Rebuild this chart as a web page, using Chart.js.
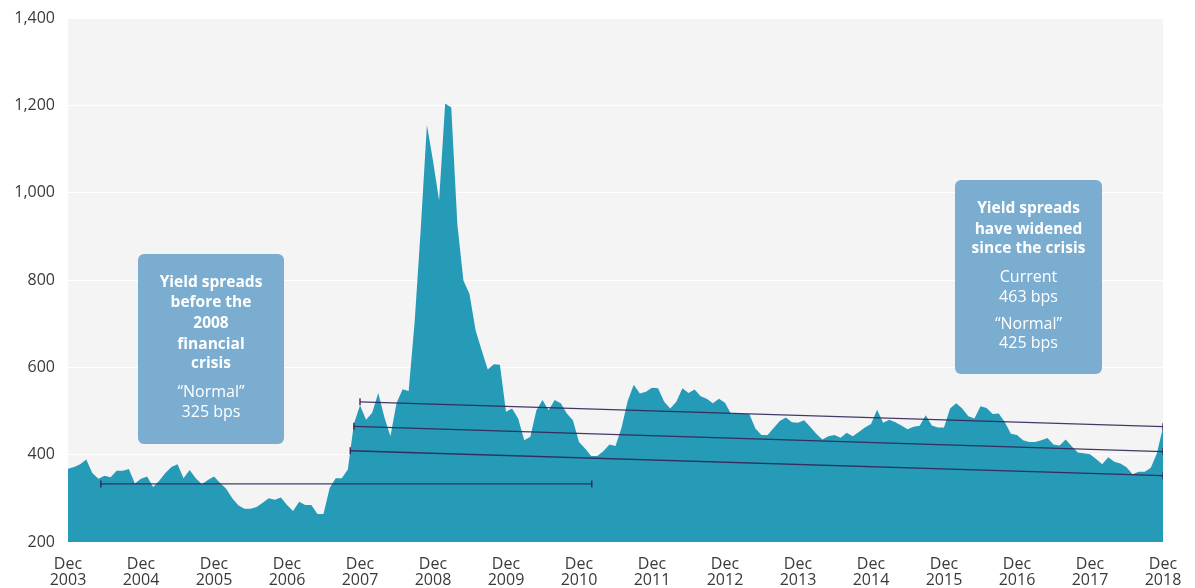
<!DOCTYPE html>
<html>
<head>
<meta charset="utf-8">
<script src="https://cdn.jsdelivr.net/npm/chart.js@4"></script>
<style>
html,body{margin:0;padding:0;background:#fff;}
#wrap{position:relative;width:1195px;height:588px;}
</style>
</head>
<body>
<div id="wrap"><canvas id="c" width="1195" height="588"></canvas></div>
<script>
// Month index 0 = Dec 2003 ... 180 = Dec 2018
const tickYears = ['2003','2004','2005','2006','2007','2008','2009','2010','2011','2012','2013','2014','2015','2016','2017','2018'];
const tickMonth = 'Dec';
const yTicks = [200, 400, 600, 800, 1000, 1200, 1400];

const spreads = [
  368,372,378,389,358,345,352,348,363,363,367,334,
  345,350,326,340,358,372,378,346,365,346,332,342,
  350,335,322,300,284,276,276,280,290,300,297,302,
  285,271,292,285,285,264,264,323,346,346,366,471,
  513,480,496,541,486,442,518,550,546,707,921,1155,
  1073,982,1204,1195,928,799,768,685,639,595,607,606,
  498,506,483,433,441,502,525,502,525,518,494,479,
  429,414,397,397,408,423,420,462,523,560,540,544,
  553,552,521,506,521,552,541,549,534,528,518,528,
  519,493,494,493,493,460,445,445,461,477,485,474,
  473,479,464,448,435,442,445,439,450,442,452,462,
  470,503,473,480,474,467,458,464,466,490,467,462,
  462,506,518,506,488,483,511,507,493,494,474,448,
  445,433,429,429,433,438,423,421,435,419,405,403,
  401,390,378,394,384,380,371,355,361,361,370,403,
  463
];

// reference lines: [monthIndex, value]
const preCrisisNormal = [[5.4, 333], [86.1, 333]];
const postLineTop = [[48, 521], [180, 464]];
const postLineMid = [[47, 465], [180, 407]];
const postLineLow = [[46.4, 409], [180, 352]];

const leftBoxBold = ['Yield spreads', 'before the', '2008', 'financial', 'crisis'];
const leftBoxText = ['\u201CNormal\u201D', '325 bps'];
const rightBoxBold = ['Yield spreads', 'have widened', 'since the crisis'];
const rightBoxText = ['Current', '463 bps', '\u201CNormal\u201D', '425 bps'];

const FONT = "'Open Sans', 'Noto Sans', sans-serif";
const AREA = '#269bb8';
const LINE = 'rgba(52,34,86,0.9)';
const BOX = '#7badd1';

function toPts(arr){ return arr.map(p => ({x: p[0], y: p[1]})); }
function refLine(arr){
  return {
    type: 'line', data: toPts(arr), order: 0,
    borderColor: LINE, borderWidth: 1.3, fill: false, tension: 0,
    pointStyle: 'line', rotation: 90, pointRadius: 3.5, pointBorderWidth: 1.5,
    pointBorderColor: LINE, pointHoverRadius: 0
  };
}

const bgPlugin = {
  id: 'bg',
  beforeDraw(chart){
    const {ctx, chartArea: a} = chart;
    ctx.save();
    ctx.fillStyle = '#f4f4f4';
    ctx.fillRect(a.left, a.top, a.right - a.left, a.bottom - a.top);
    ctx.restore();
  }
};

function drawBox(ctx, x, y, w, h, bold, boldY, text, textY){
  ctx.save();
  ctx.fillStyle = BOX;
  ctx.beginPath();
  ctx.roundRect(x, y, w, h, 6);
  ctx.fill();
  ctx.fillStyle = '#ffffff';
  ctx.textAlign = 'center';
  ctx.textBaseline = 'middle';
  const cx = x + w / 2;
  ctx.font = "bold 15.5px " + FONT;
  bold.forEach((t, i) => ctx.fillText(t, cx, boldY[i]));
  ctx.font = "16px " + FONT;
  text.forEach((t, i) => ctx.fillText(t, cx, textY[i]));
  ctx.restore();
}

const boxPlugin = {
  id: 'boxes',
  afterDraw(chart){
    const ctx = chart.ctx;
    drawBox(ctx, 138, 254, 146, 190, leftBoxBold, [283, 303, 324, 345, 364], leftBoxText, [392, 412]);
    drawBox(ctx, 955, 180, 147, 194, rightBoxBold, [209, 230, 249], rightBoxText, [277, 297, 324, 343]);
  }
};

new Chart(document.getElementById('c'), {
  type: 'line',
  data: {
    datasets: [
      refLine(preCrisisNormal),
      refLine(postLineTop),
      refLine(postLineMid),
      refLine(postLineLow),
      {
        type: 'line', order: 1,
        data: spreads.map((v, i) => ({x: i, y: v})),
        backgroundColor: AREA, borderColor: AREA, borderWidth: 0,
        fill: 'start', tension: 0, pointRadius: 0, pointHoverRadius: 0
      }
    ]
  },
  options: {
    responsive: false,
    devicePixelRatio: 1,
    animation: false,
    events: [],
    layout: {padding: {top: 18, right: 32, left: 0, bottom: 0}},
    plugins: {legend: {display: false}, tooltip: {enabled: false}},
    scales: {
      x: {
        type: 'linear', min: 0, max: 180,
        afterBuildTicks(scale){ scale.ticks = tickYears.map((y, i) => ({value: i * 12})); },
        afterFit(scale){ scale.height = 46; scale.paddingLeft = 0; scale.paddingRight = 0; },
        grid: {display: false, drawTicks: false},
        border: {display: false},
        ticks: {
          autoSkip: false, maxRotation: 0, padding: 14,
          color: '#3a3a3a',
          font: {family: FONT, size: 16, lineHeight: 1.0},
          callback: (v) => [tickMonth, tickYears[Math.round(v / 12)]]
        }
      },
      y: {
        min: 200, max: 1400,
        afterBuildTicks(scale){ scale.ticks = yTicks.map(v => ({value: v})); },
        afterFit(scale){ scale.width = 68; scale.paddingTop = 0; scale.paddingBottom = 0; },
        grid: {color: '#ffffff', lineWidth: 1, drawTicks: false},
        border: {display: false},
        ticks: {
          padding: 13, color: '#3a3a3a',
          font: {family: FONT, size: 16},
          callback: (v) => v.toLocaleString('en-US')
        }
      }
    }
  },
  plugins: [bgPlugin, boxPlugin]
});
</script>
</body>
</html>
